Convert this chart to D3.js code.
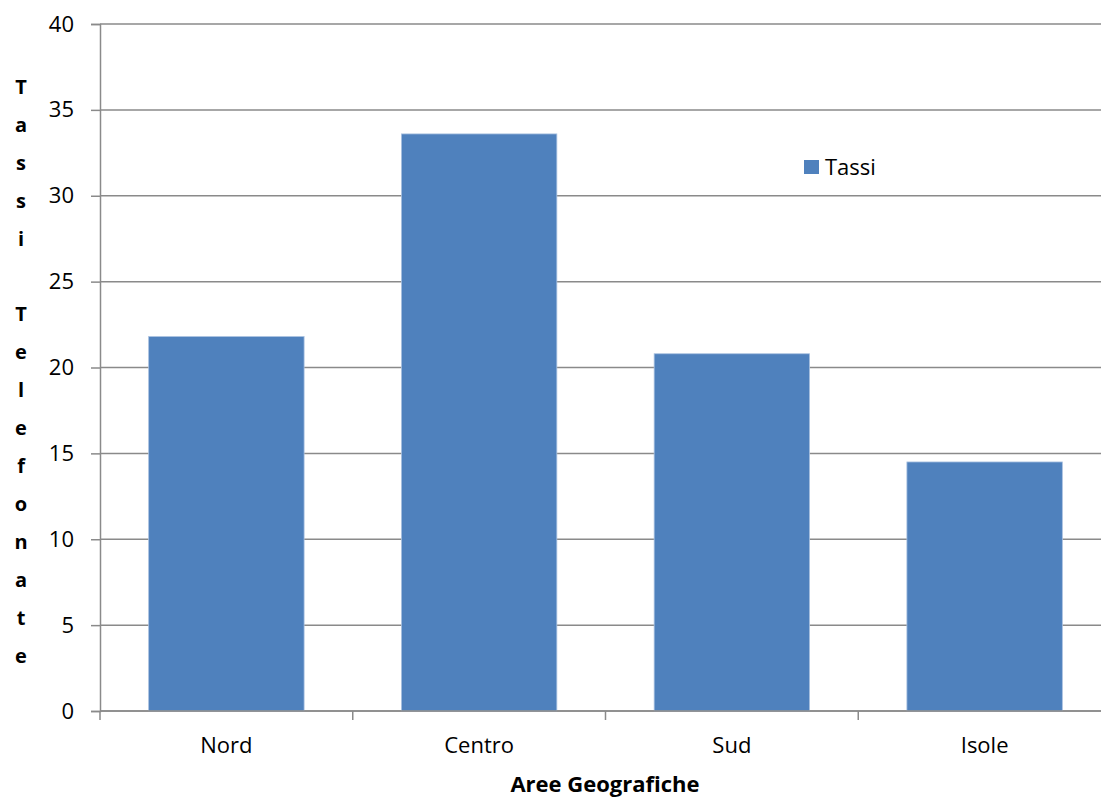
<!DOCTYPE html>
<html>
<head>
<meta charset="utf-8">
<script src="https://cdn.jsdelivr.net/npm/d3@7"></script>
<style>
  html, body { margin: 0; padding: 0; background: #fff; overflow: hidden; }
  svg { display: block; font-family: "Open Sans", "Liberation Sans", sans-serif; }
</style>
</head>
<body>
<svg id="chart" width="1101" height="798"></svg>
<script>
// Call rates by geographic area
const categories = ["Nord", "Centro", "Sud", "Isole"];
const values = [21.8, 33.6, 20.8, 14.5];
const yTicks = [0, 5, 10, 15, 20, 25, 30, 35, 40];
const seriesName = "Tassi";
const xTitle = "Aree Geografiche";
const yTitle = "Tassi Telefonate";

(function () {
  const svg = d3.select("#chart");
  const plotLeft = 100, plotRight = 1111, plotTop = 24, plotBottom = 711;
  const barColor = "#4F81BD";
  const gridColor = "#8a8a8a";

  const x = d3.scaleBand().domain(categories).range([plotLeft, plotRight])
    .paddingInner(0.385).paddingOuter(0.1925);
  const y = d3.scaleLinear().domain([0, 40]).range([plotBottom, plotTop]);

  // horizontal gridlines
  svg.append("g").selectAll("line").data(yTicks).join("line")
    .attr("x1", plotLeft).attr("x2", plotRight)
    .attr("y1", d => y(d)).attr("y2", d => y(d))
    .attr("stroke", gridColor).attr("stroke-width", 1.5);

  // bars
  svg.append("g").selectAll("rect").data(categories).join("rect")
    .attr("x", d => x(d))
    .attr("width", x.bandwidth())
    .attr("y", (d, i) => y(values[i]))
    .attr("height", (d, i) => y(0) - y(values[i]))
    .attr("fill", barColor)
    .attr("stroke", "#a9c1e0").attr("stroke-width", 0.8);

  // y axis
  const yAxis = d3.axisLeft(y).tickValues(yTicks).tickSize(9).tickPadding(17);
  const gy = svg.append("g").attr("transform", `translate(${plotLeft},0)`).call(yAxis);
  gy.select(".domain").attr("stroke", gridColor).attr("stroke-width", 1.5);
  gy.selectAll(".tick line").attr("stroke", gridColor).attr("stroke-width", 1.5);
  gy.selectAll(".tick text").attr("font-size", 22).attr("fill", "#000")
    .attr("font-family", "'Open Sans', sans-serif");

  // x axis with boundary ticks between categories
  const gx = svg.append("g").attr("transform", `translate(0,${plotBottom})`);
  gx.append("line").attr("x1", plotLeft).attr("x2", plotRight).attr("y1", 0).attr("y2", 0)
    .attr("stroke", gridColor).attr("stroke-width", 1.5);
  const boundaries = d3.range(categories.length + 1)
    .map(i => plotLeft + i * (plotRight - plotLeft) / categories.length);
  gx.selectAll("line.tk").data(boundaries).join("line").attr("class", "tk")
    .attr("x1", d => d).attr("x2", d => d).attr("y1", 0).attr("y2", 9)
    .attr("stroke", gridColor).attr("stroke-width", 1.5);
  gx.selectAll("text").data(categories).join("text")
    .attr("x", d => x(d) + x.bandwidth() / 2)
    .attr("y", 42)
    .attr("text-anchor", "middle")
    .attr("font-size", 22)
    .attr("fill", "#000")
    .text(d => d);

  // axis titles
  svg.append("text")
    .attr("x", 605).attr("y", 792)
    .attr("text-anchor", "middle")
    .attr("font-size", 22).attr("font-weight", "bold")
    .text(xTitle);

  // vertical title: one letter per line
  const letters = yTitle.split("");
  svg.append("g").selectAll("text").data(letters).join("text")
    .attr("x", 21)
    .attr("y", (d, i) => 94 + i * 37.9)
    .attr("text-anchor", "middle")
    .attr("font-size", 20).attr("font-weight", "bold")
    .text(d => d);

  // legend
  const lg = svg.append("g").attr("transform", "translate(804,160)");
  lg.append("rect").attr("width", 15).attr("height", 14).attr("fill", barColor);
  lg.append("text").attr("x", 21).attr("y", 15).attr("font-size", 22).attr("fill", "#000").text(seriesName);
})();
</script>
</body>
</html>
